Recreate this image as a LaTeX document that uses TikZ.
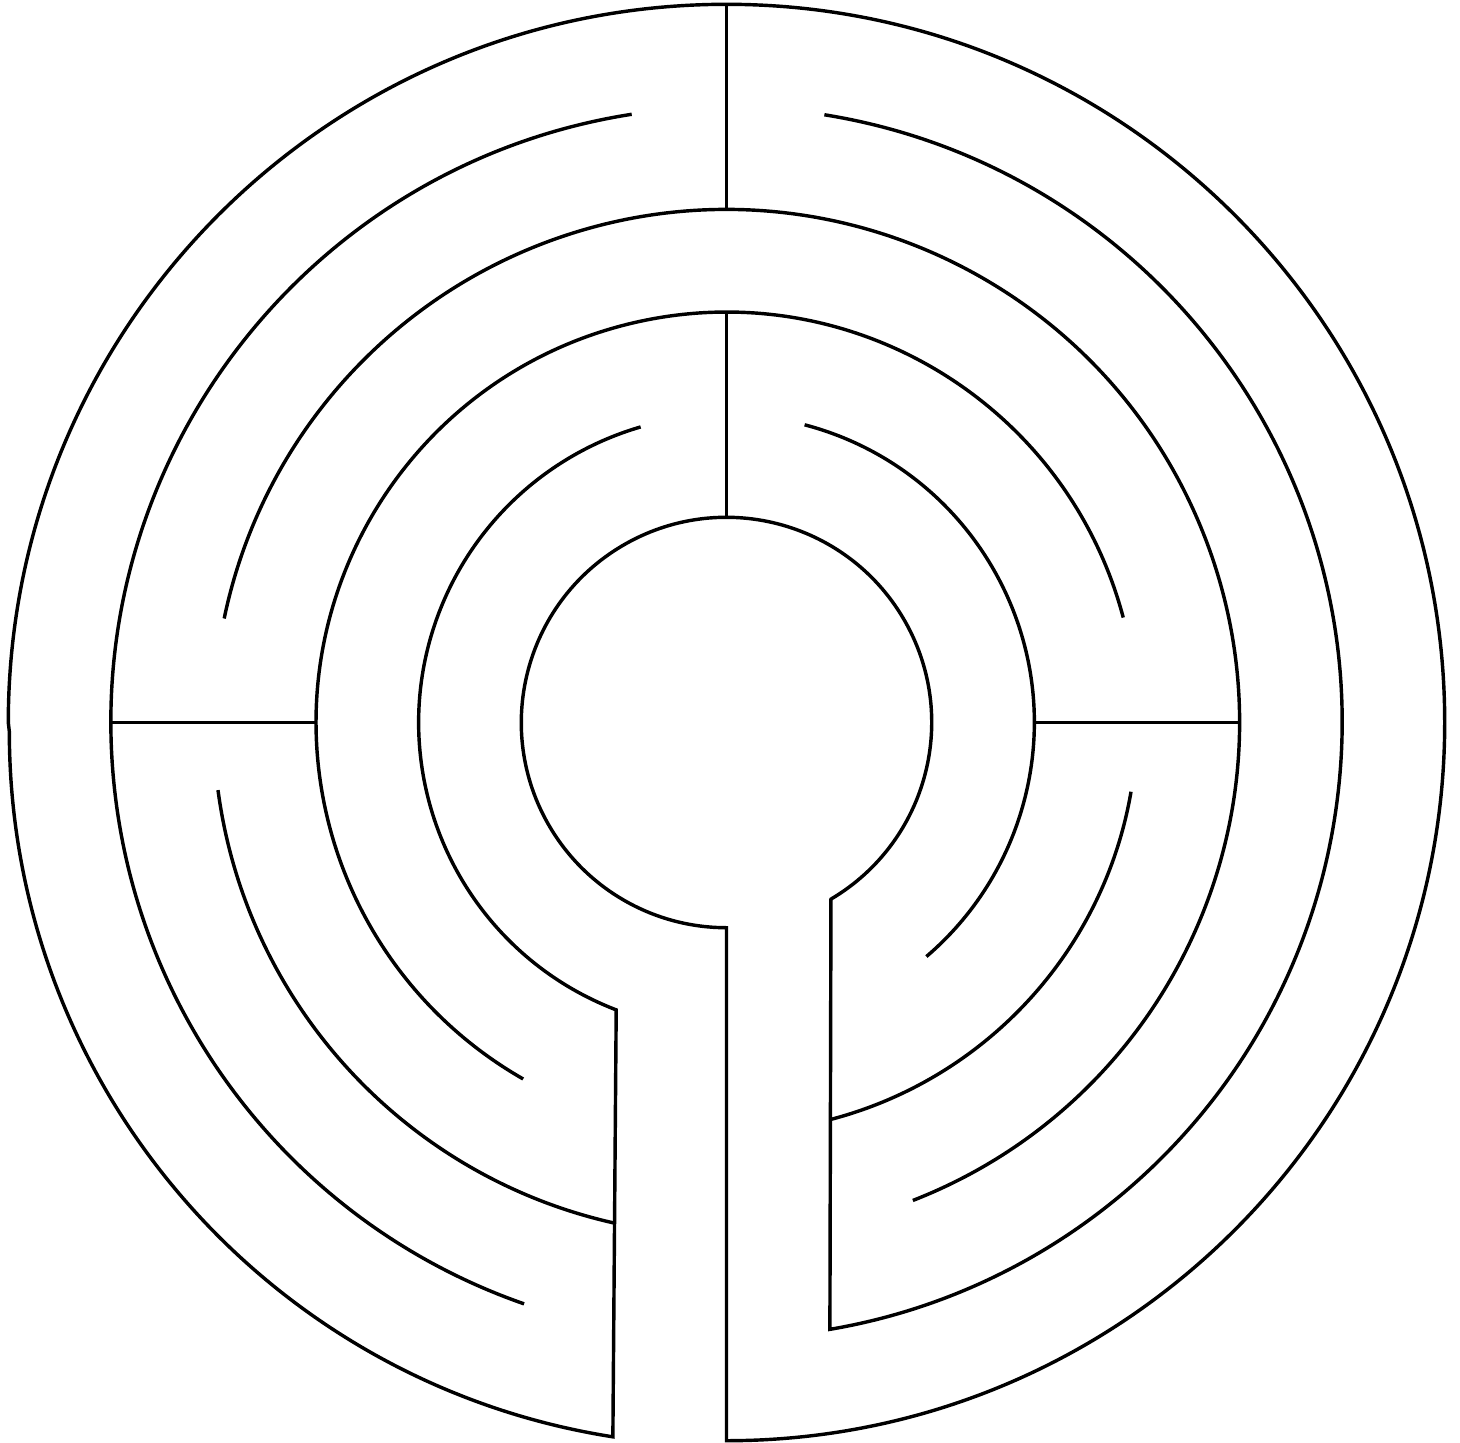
\documentclass[tikz,border=0pt]{standalone}
\begin{document}
\begin{tikzpicture}[wall/.style={line width=0.95pt, black}]
\useasboundingbox[fill=white] (-7.081,-7.013) rectangle (7.149,7.042);
% main continuous wall: right ring 6, entrance walls, inner circle, outer circle, ring 3 left
\draw[wall] (80.85:6) arc[start angle=80.85, end angle=-80.33, radius=6]
  -- (-59.4:2) arc[start angle=-59.4, end angle=270, radius=2]
  -- (0,-7) arc[start angle=-90, end angle=180, radius=7]
  -- (-6.990,-0.087) arc[start angle=180, end angle=261.1, radius=6.959]
  -- (249:3) arc[start angle=249, end angle=106.2, radius=3];
% ring 6 left
\draw[wall] (98.86:6) arc[start angle=98.86, end angle=250.8, radius=6];
% ring 5
\draw[wall] (-68.7:5) arc[start angle=-68.7, end angle=168.3, radius=5];
\draw[wall] (187.57:5) arc[start angle=187.57, end angle=257.5, radius=5];
% ring 4
\draw[wall] (14.82:4) arc[start angle=14.82, end angle=240.3, radius=4];
\draw[wall] (-9.71:4) arc[start angle=-9.71, end angle=-75.3, radius=4];
% ring 3 right
\draw[wall] (75.3:3) arc[start angle=75.3, end angle=-49.5, radius=3];
% spokes
\draw[wall] (0,7) -- (0,5);
\draw[wall] (0,4) -- (0,2);
\draw[wall] (-6,0) -- (-4,0);
\draw[wall] (3,0) -- (5,0);
\end{tikzpicture}
\end{document}
